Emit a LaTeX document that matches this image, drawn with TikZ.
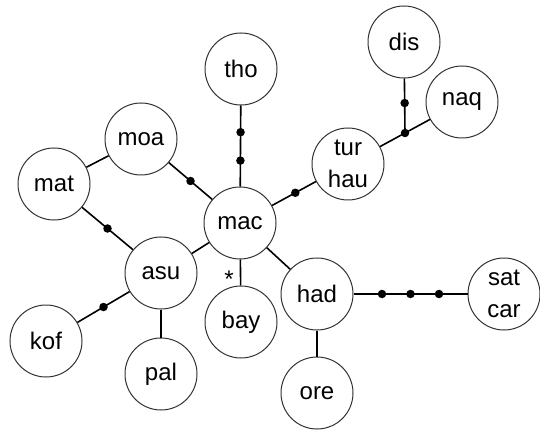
\documentclass[tikz,border=0pt]{standalone}
\usepackage{fontspec}
\setmainfont{Liberation Sans}
\tikzset{
  vert/.style={circle, draw=black!80, line width=1pt, minimum size=72pt, inner sep=0pt,
    font=\fontsize{24}{32}\selectfont, align=center, fill=white},
  link/.style={draw=black, line width=1.6pt},
  dotmark/.style={circle, fill=black, inner sep=0pt, minimum size=8.5pt},
}
\begin{document}
\begin{tikzpicture}[x=1pt, y=-1pt]
\useasboundingbox (0,0) rectangle (540,430);
\node[vert] (tho) at (241,69) {tho};
\node[vert] (dis) at (404,42) {dis};
\node[vert] (naq) at (462,102) {naq};
\node[vert] (tur) at (348,164) {tur\\hau};
\node[vert] (moa) at (141,139) {moa};
\node[vert] (mat) at (54,184) {mat};
\node[vert] (mac) at (240,223) {mac};
\node[vert] (asu) at (161,273) {asu};
\node[vert] (bay) at (241,322) {bay};
\node[vert] (had) at (317,294) {had};
\node[vert] (sat) at (504,294) {sat\\car};
\node[vert] (kof) at (46,341) {kof};
\node[vert] (pal) at (161,374) {pal};
\node[vert] (ore) at (317,393) {ore};
\coordinate (j) at (405,133);
\node[font=\fontsize{24}{30}\selectfont, inner sep=0pt] (ast) at (229,279) {*};

\draw[link] (tho) -- (mac) node[dotmark,pos=0.33]{} node[dotmark,pos=0.68]{};
\draw[link] (moa) -- (mac) node[dotmark,pos=0.5]{};
\draw[link] (mat) -- (moa);
\draw[link] (mat) -- (asu) node[dotmark,pos=0.5]{};
\draw[link] (mac) -- (tur) node[dotmark,pos=0.53]{};
\draw[link] (tur) -- (j) -- (naq);
\draw[link] (dis) -- (j) node[dotmark,pos=0.45]{};
\node[dotmark] (jd) at (j) {};
\draw[link] (mac) -- (asu);
\draw[link] (mac) -- (bay);
\draw[link] (mac) -- (had);
\draw[link] (kof) -- (asu) node[dotmark,pos=0.5]{};
\draw[link] (asu) -- (pal);
\draw[link] (had) -- (ore);
\draw[link] (had) -- (sat) node[dotmark,pos=0.25]{} node[dotmark,pos=0.5]{} node[dotmark,pos=0.75]{};
\end{tikzpicture}
\end{document}
